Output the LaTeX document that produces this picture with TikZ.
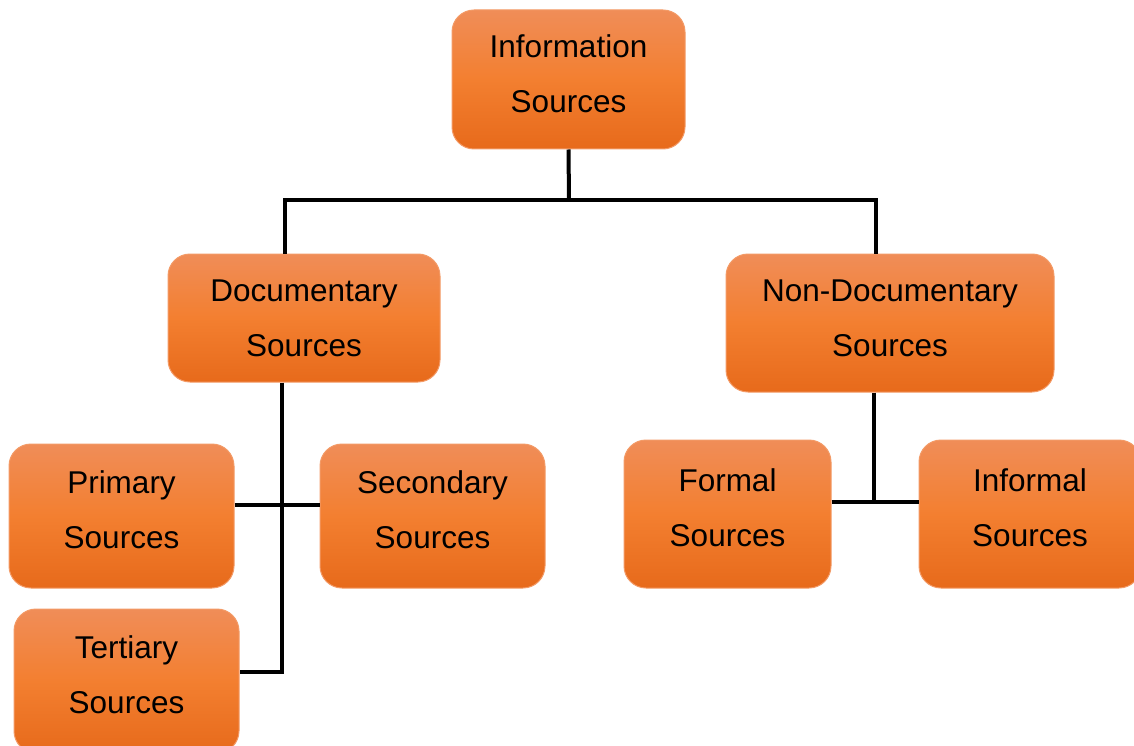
\documentclass[tikz,border=0pt]{standalone}
\usepackage{fontspec}
\setmainfont{Liberation Sans}
\definecolor{boxtop}{HTML}{F08D58}
\definecolor{boxmid}{HTML}{F37F30}
\definecolor{boxbot}{HTML}{E76A1B}
\definecolor{boxrim}{HTML}{F39A66}
\begin{document}
\begin{tikzpicture}[x=1pt,y=-1pt,
  srcbox/.style={rectangle, rounded corners=22pt, draw=boxrim, line width=1pt,
    top color=boxtop, bottom color=boxbot, middle color=boxmid,
    inner sep=0pt, align=center, text=black, text depth=13pt,
    font=\fontsize{31.5}{55}\selectfont},
  link/.style={line width=4pt, black}]
\useasboundingbox (0,0) rectangle (1134,746);

% boxes
\node[srcbox, minimum width=233pt, minimum height=139pt, text depth=12pt] (info) at (568.5,79.5) {Information\\Sources};
\node[srcbox, minimum width=272pt, minimum height=128pt, text depth=0pt] (doc) at (304,318) {Documentary\\Sources};
\node[srcbox, minimum width=328pt, minimum height=138pt, text depth=10pt] (nondoc) at (890,323) {Non-Documentary\\Sources};
\node[srcbox, minimum width=225pt, minimum height=144pt] (prim) at (121.5,516) {Primary\\Sources};
\node[srcbox, minimum width=225pt, minimum height=144pt] (sec) at (432.5,516) {Secondary\\Sources};
\node[srcbox, minimum width=225pt, minimum height=144pt] (tert) at (126.5,681) {Tertiary\\Sources};
\node[srcbox, minimum width=207pt, minimum height=148pt] (formal) at (727.5,514) {Formal\\Sources};
\node[srcbox, minimum width=222pt, minimum height=148pt] (informal) at (1030,514) {Informal\\Sources};

% junction points
\coordinate (bus) at (569,200);
\coordinate (fj) at (874,502);

% connectors
\draw[link] (info.south) -- (bus);
\draw[link] ([xshift=-19pt]doc.north) |- (bus) -| ([xshift=-14pt]nondoc.north);
\draw[link] ([xshift=-22pt]doc.south) |- ([yshift=9pt]tert.east);
\draw[link] ([yshift=11pt]prim.east) -- ([yshift=11pt]sec.west);
\draw[link] ([xshift=-16pt]nondoc.south) -- (fj);
\draw[link] ([yshift=12pt]formal.east) -- ([yshift=12pt]informal.west);
\end{tikzpicture}
\end{document}
